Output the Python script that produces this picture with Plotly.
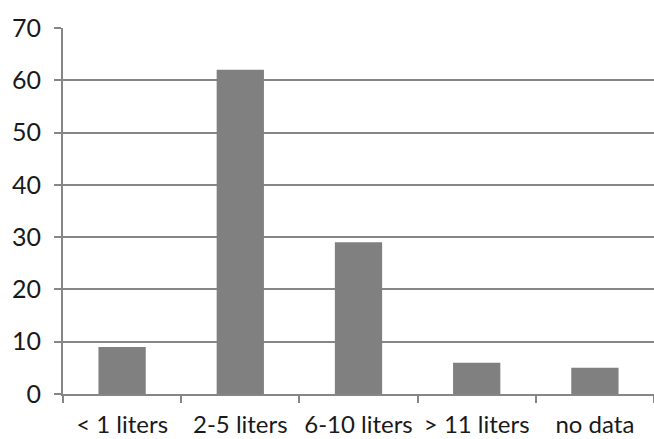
import plotly.graph_objects as go

categories = ["< 1 liters", "2-5 liters", "6-10 liters", "> 11 liters", "no data"]
values = [9, 62, 29, 6, 5]

gray = "#868686"
fig = go.Figure(go.Bar(x=categories, y=values, marker=dict(color="#808080", line=dict(width=0))))

fig.update_layout(
    width=654, height=439,
    margin=dict(l=63, r=0, t=28, b=45, autoexpand=False),
    paper_bgcolor="white", plot_bgcolor="white",
    bargap=0.6, showlegend=False,
    font=dict(family="Lato", color="#1a1a1a"),
)
fig.update_xaxes(
    showline=True, linecolor=gray, linewidth=2,
    ticks="outside", tickson="boundaries", ticklen=7, tickcolor=gray, tickwidth=2,
    tickfont=dict(size=24), tickangle=0, showgrid=False, automargin=False, ticklabelstandoff=8,
)
fig.update_yaxes(
    range=[0, 70], dtick=10, showline=True, linecolor=gray, linewidth=2,
    ticks="outside", ticklen=7, tickcolor=gray, tickwidth=2,
    showgrid=True, gridcolor=gray, gridwidth=2, zeroline=False,
    tickfont=dict(size=25), automargin=False, ticklabelstandoff=8,
)
fig.write_html(
    "out.html",
    config={"displayModeBar": False},
    post_script="document.body.style.margin='0';document.body.style.overflow='hidden';",
)
